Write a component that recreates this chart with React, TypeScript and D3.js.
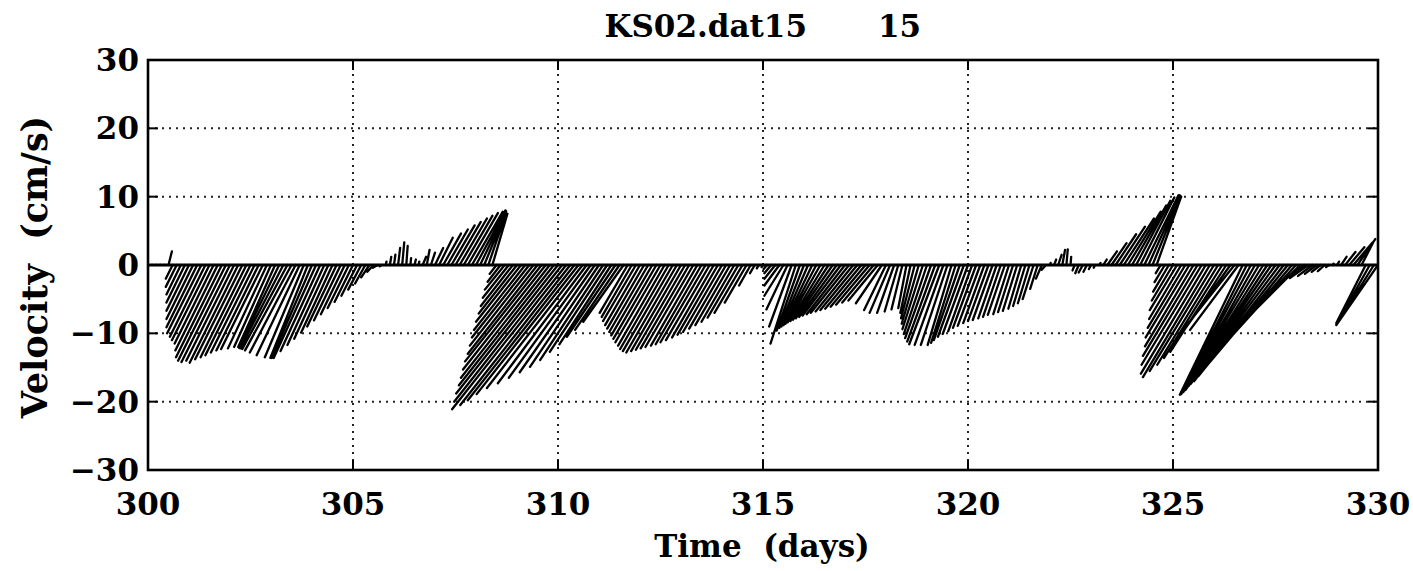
import React from "react";
import * as d3 from "d3";

// current meter record: one stick every 0.1 day from day 300.0 to 330.0
const startDay = 300;
const sampleStep = 0.1;

// east (u) component, cm/s -- one row per day
const eastVel = [
  0, 0, 0, 0, 0, 0.5, -1.0, -1.6, -2.1, -2.7,
  -3.3, -3.9, -4.5, -5.0, -5.2, -5.5, -5.7, -6.2, -6.7, -7.0,
  -7.1, -7.0, -7.1, -6.9, -6.7, -6.6, -6.4, -6.2, -6.1, -5.7,
  -5.4, -5.4, -5.9, -6.3, -6.6, -6.8, -6.7, -6.3, -5.7, -5.5,
  -5.9, -6.2, -5.8, -5.4, -5.0, -4.6, -4.3, -3.9, -3.5, -3.1,
  -2.7, -2.3, -1.9, -1.5, -1.2, -0.9, -0.7, -0.3, 0.1, 0.2,
  0.2, 0.3, 0.3, 0.2, 0.1, 0.2, 0.1, 0.5, 0.4, 0.6,
  1.2, 2.0, 2.6, 3.0, 3.4, 3.7, 4.0, 4.2, 4.4, 4.5,
  4.3, 3.8, 3.2, 2.6, 2.2, -1.0, -1.9, -2.9, -3.8, -4.7,
  -5.6, -6.6, -7.5, -8.4, -9.3, -10.2, -11.2, -12.1, -13.0, -13.9,
  -14.9, -15.8, -16.7, -16.1, -15.6, -14.9, -14.0, -13.0, -12.0, -11.0,
  -10.1, -9.2, -8.4, -7.6, -7.1, -6.5, -5.9, -4.1, -4.4, -4.8,
  -5.1, -5.4, -5.7, -6.0, -6.3, -6.6, -6.8, -7.1, -7.3, -7.4,
  -7.3, -7.2, -7.1, -7.0, -6.8, -6.7, -6.6, -6.4, -6.1, -5.9,
  -5.7, -5.4, -5.1, -4.8, -4.5, -4.1, -3.2, -1.7, -0.7, -0.3,
  -0.2, -0.5, -1.0, -1.6, -2.2, -2.8, -3.1, -3.3, -3.7, -3.4,
  -3.6, -3.9, -4.2, -4.5, -4.8, -5.0, -5.2, -5.4, -5.5, -5.6,
  -5.6, -5.6, -5.5, -5.4, -5.3, -5.1, -4.9, -4.6, -4.3, -3.8,
  -3.2, -3.0, -2.5, -2.0, -1.6, -1.2, -1.5, -2.0, -2.5, -3.0,
  -3.4, -3.8, -4.1, -4.4, -4.2, -3.9, -3.5, -3.6, -3.8, -3.8,
  -3.7, -3.5, -3.4, -3.3, -3.1, -3.0, -2.9, -2.7, -2.6, -2.5,
  -2.3, -2.2, -2.1, -1.9, -1.8, -1.7, -1.6, -1.1, -0.85, -0.6,
  0.1, 0.3, 0.5, 0.4, 0.2, 0.1, -0.3, -0.5, -0.6, -0.5,
  -0.3, -0.2, 0.2, 0.5, 1.4, 2.2, 3.0, 3.7, 4.4, 4.8,
  5.0, 5.0, 5.0, 5.0, 4.6, 4.1, 3.6, -0.72, -1.5, -2.3,
  -3.1, -4.0, -4.7, -5.5, -6.4, -7.1, -8.0, -8.8, -9.5, -9.8,
  -9.4, -8.9, -8.5, -8.2, -8.1, -8.0, -7.1, -9.2, -9.6, -10.1,
  -10.5, -11.0, -11.4, -11.9, -12.4, -12.7, -13.0, -13.1, -13.1, -12.0,
  -9.7, -6.6, -4.3, -2.7, -2.1, -1.7, -1.3, -1.0, -0.4, 0.1,
  0.3, 0.8, 1.5, 2.2, 2.8, 2.6, 1.8, -4.3, -4.9, -5.5,
  -6.1,
];

// north (v) component, cm/s -- one row per day
const northVel = [
  0, 0, 0, 0, 0, 2.0, -2.0, -3.2, -4.3, -5.5,
  -6.7, -7.9, -9.1, -10.0, -10.5, -11.0, -11.5, -12.5, -13.5, -14.0,
  -14.2, -14.0, -14.3, -13.8, -13.5, -13.2, -12.8, -12.5, -12.3, -12.2,
  -12.0, -12.0, -12.1, -12.2, -12.3, -12.5, -12.8, -13.2, -13.5, -13.6,
  -13.6, -13.6, -12.6, -11.7, -10.8, -9.9, -9.0, -8.1, -7.2, -6.3,
  -5.4, -4.5, -3.6, -2.7, -1.8, -1.0, -0.4, -0.2, 0.5, 1.2,
  1.5, 2.5, 3.3, 2.8, 1.0, 0.8, 0.5, 1.2, 2.2, 1.8,
  2.5, 4.0, 4.6, 5.2, 5.8, 6.3, 6.8, 7.2, 7.6, 7.8,
  8.0, 7.9, 7.8, 7.6, 7.5, -1.3, -2.45, -3.6, -4.8, -6.0,
  -7.1, -8.3, -9.5, -10.6, -11.8, -13.0, -14.1, -15.3, -16.5, -17.6,
  -18.8, -20.0, -21.1, -20.5, -19.8, -18.9, -18.0, -17.3, -16.5, -15.7,
  -14.9, -13.9, -12.7, -11.6, -10.5, -9.5, -8.3, -7.0, -7.6, -8.2,
  -8.8, -9.3, -9.8, -10.3, -10.8, -11.3, -11.8, -12.3, -12.6, -12.8,
  -12.6, -12.4, -12.2, -12.0, -11.8, -11.6, -11.3, -11.0, -10.6, -10.2,
  -9.8, -9.3, -8.8, -8.3, -7.7, -7.0, -5.5, -3.0, -1.2, -0.5,
  -0.3, -0.6, -1.2, -2.0, -3.0, -4.5, -6.5, -9.0, -11.5, -9.6,
  -9.2, -9.0, -8.8, -8.6, -8.4, -8.2, -8.0, -7.8, -7.6, -7.4,
  -7.2, -7.0, -6.8, -6.6, -6.4, -6.1, -5.8, -5.5, -5.2, -5.6,
  -6.6, -7.0, -7.0, -6.8, -6.5, -6.3, -7.0, -7.8, -8.6, -9.4,
  -10.1, -10.7, -11.2, -11.6, -11.7, -11.7, -11.7, -11.4, -11.0, -10.5,
  -10.1, -9.7, -9.2, -8.9, -8.5, -8.2, -8.05, -7.8, -7.6, -7.3,
  -7.2, -6.9, -6.7, -6.4, -6.0, -5.6, -5.0, -3.5, -2.0, -0.7,
  0.3, 0.8, 1.5, 2.2, 2.3, 1.2, -0.8, -1.2, -1.1, -1.0,
  -0.6, -0.4, 0.3, 0.8, 2.0, 3.2, 4.5, 5.6, 6.8, 7.8,
  8.7, 9.4, 9.9, 10.2, 10.2, 10.1, 10.0, -1.2, -2.5, -3.9,
  -5.2, -6.6, -7.9, -9.2, -10.6, -11.9, -13.3, -14.6, -15.9, -16.4,
  -15.5, -14.6, -13.6, -12.7, -11.4, -10.1, -9.5, -19.0, -18.9, -18.7,
  -18.6, -18.4, -18.3, -18.2, -18.0, -17.7, -17.4, -17.0, -16.3, -14.2,
  -10.7, -6.6, -3.2, -1.9, -1.6, -1.3, -1.0, -0.9, -0.3, 0.2,
  0.5, 1.2, 1.9, 2.6, 3.3, 3.8, 3.5, -8.5, -8.7, -8.8,
  -8.8,
];

const dayTicks = [300, 305, 310, 315, 320, 325, 330];
const velTicks = [-30, -20, -10, 0, 10, 20, 30];
const gridDays = [305, 310, 315, 320, 325];
const gridVels = [-20, -10, 10, 20];

const fileName = "KS02.dat15";
const depthLabel = "15";
const xTitle = "Time  (days)";
const yTitle = "Velocity  (cm/s)";

const font = "'DejaVu Serif', serif";

export default function App() {
  const width = 1413;
  const height = 571;
  const left = 148, right = 1378, top = 60, bottom = 470;

  const x = d3.scaleLinear().domain([300, 330]).range([left, right]);
  const y = d3.scaleLinear().domain([-30, 30]).range([bottom, top]);
  // same pixel scale for both components so stick direction is true
  const k = y(0) - y(1);

  const sticks = d3.path();
  eastVel.forEach((u, i) => {
    const t = startDay + i * sampleStep;
    sticks.moveTo(x(t), y(0));
    sticks.lineTo(x(t) + u * k, y(northVel[i]));
  });

  const fmt = (d: number) => (d < 0 ? "\u2212" + Math.abs(d) : String(d));
  const tick = 10;

  return (
    <svg
      width={width}
      height={height}
      style={{ position: "absolute", left: 0, top: 0, background: "#fff" }}
    >
      <defs>
        <clipPath id="plot">
          <rect x={left} y={top} width={right - left} height={bottom - top} />
        </clipPath>
      </defs>

      {/* dotted grid */}
      <g stroke="#222" strokeWidth={2} strokeDasharray="2,5">
        {gridDays.map((d) => (
          <line key={"gx" + d} x1={x(d)} x2={x(d)} y1={top} y2={bottom} />
        ))}
        {gridVels.map((v) => (
          <line key={"gy" + v} x1={left} x2={right} y1={y(v)} y2={y(v)} />
        ))}
      </g>

      {/* sticks */}
      <g clipPath="url(#plot)">
        <path
          d={sticks.toString()}
          stroke="#000"
          strokeWidth={2.3}
          strokeLinecap="round"
          fill="none"
        />
        <line x1={left} x2={right} y1={y(0)} y2={y(0)} stroke="#000" strokeWidth={2.8} />
      </g>

      {/* frame and ticks */}
      <rect
        x={left}
        y={top}
        width={right - left}
        height={bottom - top}
        fill="none"
        stroke="#000"
        strokeWidth={2.6}
      />
      <g stroke="#000" strokeWidth={2}>
        {dayTicks.map((d) => (
          <g key={"tx" + d}>
            <line x1={x(d)} x2={x(d)} y1={bottom} y2={bottom - tick} />
            <line x1={x(d)} x2={x(d)} y1={top} y2={top + tick} />
          </g>
        ))}
        {velTicks.map((v) => (
          <g key={"ty" + v}>
            <line x1={left} x2={left + tick} y1={y(v)} y2={y(v)} />
            <line x1={right} x2={right - tick} y1={y(v)} y2={y(v)} />
          </g>
        ))}
      </g>

      {/* tick labels */}
      <g fontFamily={font} fontWeight="bold" fontSize={31} fill="#000">
        {dayTicks.map((d) => (
          <text key={"lx" + d} x={x(d)} y={515} textAnchor="middle">
            {d}
          </text>
        ))}
        {velTicks.map((v) => (
          <text key={"ly" + v} x={139} y={y(v) + 11} textAnchor="end">
            {fmt(v)}
          </text>
        ))}
      </g>

      {/* titles */}
      <g fontFamily={font} fontWeight="bold" fill="#000">
        <text x={807} y={37} fontSize={31} textAnchor="end">{fileName}</text>
        <text x={878} y={37} fontSize={31}>{depthLabel}</text>
        <text
          x={762}
          y={557}
          fontSize={31}
          textAnchor="middle"
          style={{ whiteSpace: "pre" }}
        >
          {xTitle}
        </text>
        <text
          transform={`translate(47,267) rotate(-90)`}
          fontSize={35}
          textAnchor="middle"
          style={{ whiteSpace: "pre" }}
        >
          {yTitle}
        </text>
      </g>
    </svg>
  );
}
